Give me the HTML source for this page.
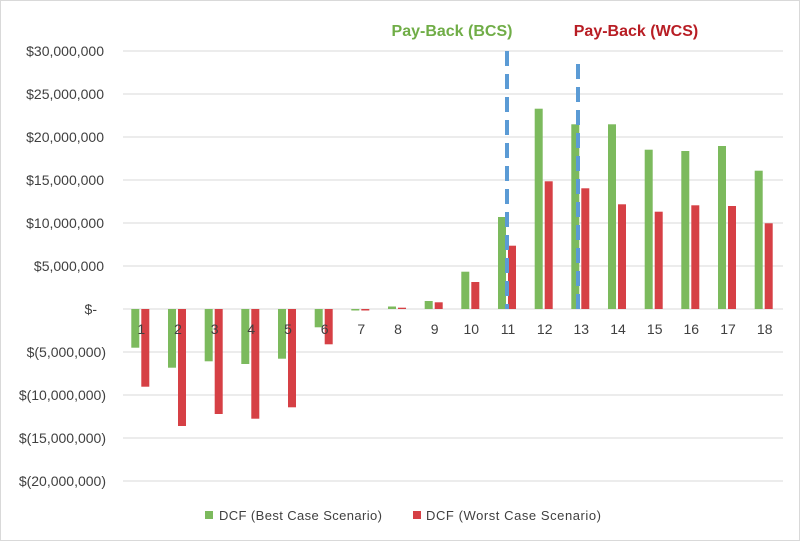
<!DOCTYPE html>
<html><head><meta charset="utf-8"><style>
html,body{margin:0;padding:0;background:#fff}
svg{display:block}
text{font-family:"Liberation Sans",sans-serif}
</style></head><body>
<svg width="800" height="541" viewBox="0 0 800 541" xmlns="http://www.w3.org/2000/svg">
<rect x="0.5" y="0.5" width="799" height="540" fill="#fff" stroke="#d9d9d9"/>
<g stroke="#d9d9d9" stroke-width="1">
<line x1="123" x2="783" y1="51" y2="51"/>
<line x1="123" x2="783" y1="94" y2="94"/>
<line x1="123" x2="783" y1="137" y2="137"/>
<line x1="123" x2="783" y1="180" y2="180"/>
<line x1="123" x2="783" y1="223" y2="223"/>
<line x1="123" x2="783" y1="266" y2="266"/>
<line x1="123" x2="783" y1="309" y2="309"/>
<line x1="123" x2="783" y1="352" y2="352"/>
<line x1="123" x2="783" y1="395" y2="395"/>
<line x1="123" x2="783" y1="438" y2="438"/>
<line x1="123" x2="783" y1="481" y2="481"/>
</g>
<g font-size="14" fill="#404040" text-anchor="end">
<text x="104" y="56">$30,000,000</text>
<text x="104" y="99">$25,000,000</text>
<text x="104" y="142">$20,000,000</text>
<text x="104" y="185">$15,000,000</text>
<text x="104" y="228">$10,000,000</text>
<text x="104" y="271">$5,000,000</text>
<text x="97" y="314">$-</text>
<text x="106" y="357">$(5,000,000)</text>
<text x="106" y="400">$(10,000,000)</text>
<text x="106" y="443">$(15,000,000)</text>
<text x="106" y="486">$(20,000,000)</text>
</g>
<g fill="#7CBA5D">
<rect x="131.3" y="309" width="8" height="38.7"/>
<rect x="168" y="309" width="8" height="58.7"/>
<rect x="204.7" y="309" width="8" height="52.3"/>
<rect x="241.3" y="309" width="8" height="55"/>
<rect x="278" y="309" width="8" height="49.7"/>
<rect x="314.7" y="309" width="8" height="18.3"/>
<rect x="351.3" y="309" width="8" height="1.5"/>
<rect x="388" y="306.5" width="8" height="2.5"/>
<rect x="424.7" y="301" width="8" height="8"/>
<rect x="461.3" y="271.7" width="8" height="37.3"/>
<rect x="498" y="217" width="8" height="92"/>
<rect x="534.7" y="108.7" width="8" height="200.3"/>
<rect x="571.3" y="124.3" width="8" height="184.7"/>
<rect x="608" y="124.3" width="8" height="184.7"/>
<rect x="644.7" y="149.7" width="8" height="159.3"/>
<rect x="681.3" y="151" width="8" height="158"/>
<rect x="718" y="146" width="8" height="163"/>
<rect x="754.7" y="170.7" width="8" height="138.3"/>
</g>
<g fill="#D64045">
<rect x="141.3" y="309" width="8" height="77.7"/>
<rect x="178" y="309" width="8" height="117"/>
<rect x="214.7" y="309" width="8" height="105"/>
<rect x="251.3" y="309" width="8" height="109.7"/>
<rect x="288" y="309" width="8" height="98.3"/>
<rect x="324.7" y="309" width="8" height="35.3"/>
<rect x="361.3" y="309" width="8" height="1.5"/>
<rect x="398" y="307.7" width="8" height="1.3"/>
<rect x="434.7" y="302.3" width="8" height="6.7"/>
<rect x="471.3" y="282" width="8" height="27"/>
<rect x="508" y="245.7" width="8" height="63.3"/>
<rect x="544.7" y="181.3" width="8" height="127.7"/>
<rect x="581.3" y="188.3" width="8" height="120.7"/>
<rect x="618" y="204.3" width="8" height="104.7"/>
<rect x="654.7" y="211.7" width="8" height="97.3"/>
<rect x="691.3" y="205.3" width="8" height="103.7"/>
<rect x="728" y="206" width="8" height="103"/>
<rect x="764.7" y="223.3" width="8" height="85.7"/>
</g>
<g font-size="14" fill="#404040" text-anchor="middle">
<text x="141.3" y="334">1</text><text x="178" y="334">2</text><text x="214.7" y="334">3</text>
<text x="251.3" y="334">4</text><text x="288" y="334">5</text><text x="324.7" y="334">6</text>
<text x="361.3" y="334">7</text><text x="398" y="334">8</text><text x="434.7" y="334">9</text>
<text x="471.3" y="334">10</text><text x="508" y="334">11</text><text x="544.7" y="334">12</text>
<text x="581.3" y="334">13</text><text x="618" y="334">14</text><text x="654.7" y="334">15</text>
<text x="691.3" y="334">16</text><text x="728" y="334">17</text><text x="764.7" y="334">18</text>
</g>
<g stroke="#5B9BD5" stroke-width="4" stroke-dasharray="15 8">
<line x1="507" x2="507" y1="51" y2="309"/>
<line x1="578" x2="578" y1="64" y2="309"/>
</g>
<text x="452" y="36" font-size="16" font-weight="bold" fill="#70AD47" text-anchor="middle">Pay-Back (BCS)</text>
<text x="636" y="36" font-size="16" font-weight="bold" fill="#B81D24" text-anchor="middle">Pay-Back (WCS)</text>
<rect x="205" y="511" width="8" height="8" fill="#7CBA5D"/>
<text x="219" y="520" font-size="13" fill="#404040" textLength="163">DCF (Best Case Scenario)</text>
<rect x="413" y="511" width="8" height="8" fill="#D64045"/>
<text x="426" y="520" font-size="13" fill="#404040" textLength="175">DCF (Worst Case Scenario)</text>
</svg>
</body></html>
